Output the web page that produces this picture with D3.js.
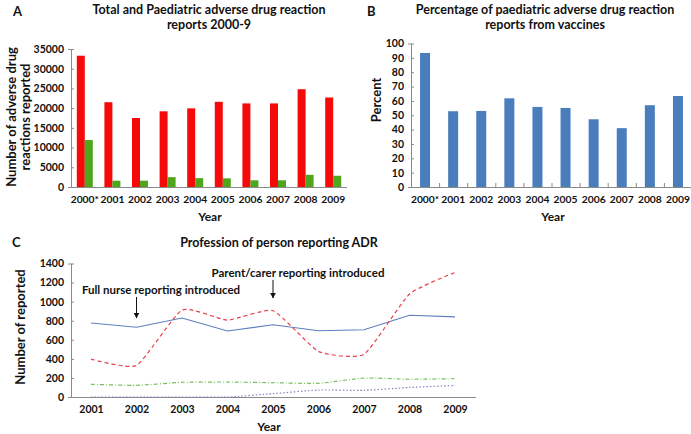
<!DOCTYPE html>
<html><head><meta charset="utf-8">
<script src="https://cdn.jsdelivr.net/npm/d3@7"></script>
<style>
body{margin:0;background:#fff;}
text{font-family:Lato,"Open Sans",sans-serif;font-weight:bold;fill:#111;}
</style></head>
<body><svg id="c" width="691" height="434"></svg>
<script>
// ---- Data ----
const yearsAB = ["2000*","2001","2002","2003","2004","2005","2006","2007","2008","2009"];
const totalReports = [33300,21500,17500,19200,19950,21600,21200,21200,24800,22700];
const paedReports  = [11900,1600,1600,2500,2250,2200,1700,1700,3100,2850];
const vaccinePct   = [93.4,52.8,53,61.8,55.8,55.1,47.2,41,57,63.4];
const yearsC = ["2001","2002","2003","2004","2005","2006","2007","2008","2009"];
const doctorReports = [776,731,828,692,758,695,706,857,840];
const parentReports = [398,330,912,807,905,478,448,1080,1305];
const pharmReports  = [133,122,154,157,150,143,199,186,192];
const otherReports  = [0,0,0,0,35,73,70,100,122];
const ticksA = [0,5000,10000,15000,20000,25000,30000,35000];
const ticksB = [0,10,20,30,40,50,60,70,80,90,100];
const ticksC = [0,200,400,600,800,1000,1200,1400];

const svg = d3.select("#c");
const axisCol = "#8a8a8a";

function styleAxis(g, fs){
  g.selectAll("path,line").attr("stroke",axisCol);
  g.selectAll("text").attr("font-size",fs||10.5).attr("fill","#111").attr("font-family","Lato,sans-serif").attr("font-weight","bold");
}

// ---- Panel A ----
{
  const x = d3.scaleBand().domain(yearsAB).range([71,347]);
  const y = d3.scaleLinear().domain([0,35000]).range([187,49]);
  const bw = 8;
  const g = svg.append("g");
  g.selectAll(".r").data(yearsAB).enter().append("rect")
    .attr("x",d=>x(d)+x.bandwidth()/2-bw).attr("width",bw)
    .attr("y",(d,i)=>y(totalReports[i])).attr("height",(d,i)=>y(0)-y(totalReports[i]))
    .attr("fill","#f50a0a");
  g.selectAll(".gr").data(yearsAB).enter().append("rect")
    .attr("x",d=>x(d)+x.bandwidth()/2).attr("width",bw)
    .attr("y",(d,i)=>y(paedReports[i])).attr("height",(d,i)=>y(0)-y(paedReports[i]))
    .attr("fill","#4ea61c");
  const ya = svg.append("g").attr("transform","translate(71,0)")
    .call(d3.axisLeft(y).tickValues(ticksA).tickSize(3).tickPadding(4).tickFormat(d3.format("d")));
  styleAxis(ya);
  ya.selectAll(".tick line").attr("x2",0).attr("x1",3);
  const xa = svg.append("g").attr("transform","translate(0,187)")
    .call(d3.axisBottom(x).tickSize(0).tickPadding(9));
  styleAxis(xa, 10.3);
  xa.select("path").attr("d","M71,0.5H347");
  svg.append("text").attr("x",13).attr("y",16).attr("font-size",13).text("A");
  svg.append("text").attr("x",209).attr("y",14).attr("text-anchor","middle").attr("font-size",12.5).text("Total and Paediatric adverse drug reaction");
  svg.append("text").attr("x",209).attr("y",28.5).attr("text-anchor","middle").attr("font-size",12.5).text("reports 2000-9");
  svg.append("text").attr("transform","translate(16,117) rotate(-90)").attr("text-anchor","middle").attr("font-size",13).text("Number of adverse drug");
  svg.append("text").attr("transform","translate(30,117) rotate(-90)").attr("text-anchor","middle").attr("font-size",13).text("reactions reported");
  svg.append("text").attr("x",210).attr("y",221).attr("text-anchor","middle").attr("font-size",12).text("Year");
}

// ---- Panel B ----
{
  const x = d3.scaleBand().domain(yearsAB).range([411,692]);
  const y = d3.scaleLinear().domain([0,100]).range([187,43.5]);
  const bw = 10;
  svg.append("g").selectAll("rect").data(yearsAB).enter().append("rect")
    .attr("x",d=>x(d)+x.bandwidth()/2-bw/2).attr("width",bw)
    .attr("y",(d,i)=>y(vaccinePct[i])).attr("height",(d,i)=>y(0)-y(vaccinePct[i]))
    .attr("fill","#4a7dbb");
  const ya = svg.append("g").attr("transform","translate(411,0)")
    .call(d3.axisLeft(y).tickValues(ticksB).tickSize(3).tickPadding(4));
  styleAxis(ya);
  ya.selectAll(".tick line").attr("x2",0).attr("x1",3);
  const xa = svg.append("g").attr("transform","translate(0,187)")
    .call(d3.axisBottom(x).tickSize(0).tickPadding(9));
  styleAxis(xa, 10.3);
  xa.select("path").attr("d","M411,0.5H692");
  svg.append("g").selectAll("line").data(yearsAB.slice(1)).enter().append("line")
    .attr("x1",d=>x(d)+0.5).attr("x2",d=>x(d)+0.5).attr("y1",187).attr("y2",183)
    .attr("stroke",axisCol);
  svg.append("text").attr("x",367).attr("y",16).attr("font-size",13).text("B");
  svg.append("text").attr("x",545).attr("y",14).attr("text-anchor","middle").attr("font-size",12.5).text("Percentage of paediatric adverse drug reaction");
  svg.append("text").attr("x",545).attr("y",28.5).attr("text-anchor","middle").attr("font-size",12.5).text("reports from vaccines");
  svg.append("text").attr("transform","translate(381,100) rotate(-90)").attr("text-anchor","middle").attr("font-size",13).text("Percent");
  svg.append("text").attr("x",553).attr("y",221).attr("text-anchor","middle").attr("font-size",12).text("Year");
}

// ---- Panel C ----
{
  const x = d3.scalePoint().domain(yearsC).range([91,455]);
  const y = d3.scaleLinear().domain([0,1400]).range([397,263.5]);
  const ya = svg.append("g").attr("transform","translate(71,0)")
    .call(d3.axisLeft(y).tickValues(ticksC).tickSize(3).tickPadding(4).tickFormat(d3.format("d")));
  styleAxis(ya);
  ya.selectAll(".tick line").attr("x2",0).attr("x1",3);
  const xa = svg.append("g").attr("transform","translate(0,397)")
    .call(d3.axisBottom(x).tickSize(0).tickPadding(9));
  styleAxis(xa, 10.5);
  xa.select("path").attr("d","M71,0.5H476");

  const lineStraight = d3.line().x((d,i)=>x(yearsC[i])).y(d=>y(d));
  const lineSmooth = d3.line().x((d,i)=>x(yearsC[i])).y(d=>y(d)).curve(d3.curveCardinal.tension(0.5));
  svg.append("path").attr("d",lineSmooth(otherReports)).attr("fill","none")
    .attr("stroke","#8a7cc0").attr("stroke-width",1.2).attr("stroke-dasharray","1.5,2");
  svg.append("path").attr("d",lineSmooth(pharmReports)).attr("fill","none")
    .attr("stroke","#78c25a").attr("stroke-width",1.2).attr("stroke-dasharray","4,2,1,2");
  svg.append("path").attr("d",lineStraight(doctorReports)).attr("fill","none")
    .attr("stroke","#5c7fc0").attr("stroke-width",1.1);
  svg.append("path").attr("d",lineSmooth(parentReports)).attr("fill","none")
    .attr("stroke","#e8404c").attr("stroke-width",1.2).attr("stroke-dasharray","4,3");

  svg.append("text").attr("x",12).attr("y",247).attr("font-size",13).text("C");
  svg.append("text").attr("x",279).attr("y",247).attr("text-anchor","middle").attr("font-size",12.5).text("Profession of person reporting ADR");
  svg.append("text").attr("transform","translate(25,327) rotate(-90)").attr("text-anchor","middle").attr("font-size",13).text("Number of reported");
  svg.append("text").attr("x",269).attr("y",431).attr("text-anchor","middle").attr("font-size",12).text("Year");

  svg.append("defs").append("marker").attr("id","ah").attr("viewBox","0 0 10 10")
    .attr("refX",9).attr("refY",5).attr("markerWidth",6).attr("markerHeight",6).attr("orient","auto")
    .append("path").attr("d","M0,0L10,5L0,10z").attr("fill","#111");
  svg.append("text").attr("x",161).attr("y",294).attr("text-anchor","middle").attr("font-size",11.5).text("Full nurse reporting introduced");
  svg.append("line").attr("x1",x("2002")).attr("x2",x("2002")).attr("y1",297).attr("y2",318)
    .attr("stroke","#111").attr("stroke-width",1).attr("marker-end","url(#ah)");
  svg.append("text").attr("x",298).attr("y",277).attr("text-anchor","middle").attr("font-size",11.5).text("Parent/carer reporting introduced");
  svg.append("line").attr("x1",x("2005")).attr("x2",x("2005")).attr("y1",280).attr("y2",298)
    .attr("stroke","#111").attr("stroke-width",1).attr("marker-end","url(#ah)");
}
</script></body></html>
